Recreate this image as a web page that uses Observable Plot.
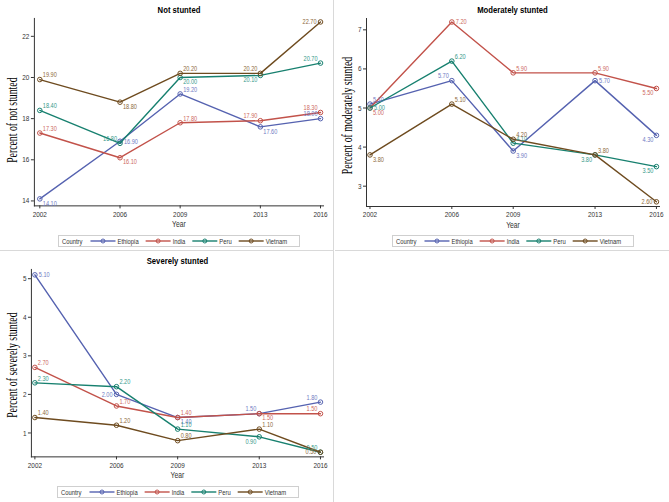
<!DOCTYPE html>
<html><head><meta charset="utf-8">
<script src="https://cdn.jsdelivr.net/npm/d3@7"></script>
<script src="https://cdn.jsdelivr.net/npm/@observablehq/plot@0.6"></script>
<style>
body{margin:0;background:#fff;font-family:"Liberation Sans",Arial,sans-serif;}
#root{position:relative;width:669px;height:502px;overflow:hidden;background:#fff}
.panel{position:absolute;width:334px;height:251px;box-sizing:border-box;border-color:#d9d9d9;border-style:solid;border-width:0}
.panel > svg{position:absolute;left:0;top:0;overflow:visible}
.title{position:absolute;top:4px;font-weight:bold;font-size:9.5px;line-height:12px;text-align:center;color:#000;z-index:2;transform:scaleX(0.81);transform-origin:center}
.legend{position:absolute;top:235px;height:12px;border:1px solid #cfcfcf;box-sizing:border-box;z-index:2}
.legend svg{position:absolute;left:0;top:0}
</style></head>
<body><div id="root"></div>
<script>
// ---- data ----
const years = [2002, 2006, 2009, 2013, 2016];
const countries = ["Ethiopia", "India", "Peru", "Vietnam"];

const notEthiopia = [14.1, 16.9, 19.2, 17.6, 18.0];
const notIndia    = [17.3, 16.1, 17.8, 17.9, 18.3];
const notPeru     = [18.4, 16.8, 20.0, 20.1, 20.7];
const notVietnam  = [19.9, 18.8, 20.2, 20.2, 22.7];

const modEthiopia = [5.1, 5.7, 3.9, 5.7, 4.3];
const modIndia    = [5.0, 7.2, 5.9, 5.9, 5.5];
const modPeru     = [5.0, 6.2, 4.1, 3.8, 3.5];
const modVietnam  = [3.8, 5.1, 4.2, 3.8, 2.6];

const sevEthiopia = [5.1, 2.0, 1.4, 1.5, 1.8];
const sevIndia    = [2.7, 1.7, 1.4, 1.5, 1.5];
const sevPeru     = [2.3, 2.2, 1.1, 0.9, 0.5];
const sevVietnam  = [1.4, 1.2, 0.8, 1.1, 0.5];

const notTicks = [14, 16, 18, 20, 22];
const modTicks = [3, 4, 5, 6, 7];
const sevTicks = [1, 2, 3, 4, 5];

// data-label placement (compass direction from the point)
const notPlace = [["se","e","ne","se","nw"],["ne","se","ne","nw","nw"],["ne","nw","se","sw","nw"],["ne","se","ne","nw","w"]];
const modPlace = [["ne","nw","se","e","sw"],["se","e","ne","ne","sw"],["e","ne","ne","sw","sw"],["se","ne","ne","ne","w"]];
const sevPlace = [["e","w","se","nw","nw"],["ne","ne","ne","se","nw"],["ne","ne","ne","sw","nw"],["ne","ne","ne","ne","w"]];

// ---- styles ----
const sans = "Liberation Sans, Arial, sans-serif";
const lineColors  = ["#5562b0", "#c2524a", "#17806f", "#6e4b1f"];
const labelColors = ["#6f7bc3", "#cd6a5f", "#35998a", "#8d6a3c"];
const offsets = {
  ne: {dx: 3, dy: -4.5, textAnchor: "start"},
  se: {dx: 3, dy: 4.5, textAnchor: "start"},
  nw: {dx: -3, dy: -4.5, textAnchor: "end"},
  sw: {dx: -3, dy: 4.5, textAnchor: "end"},
  e:  {dx: 4, dy: 0, textAnchor: "start"},
  w:  {dx: -4, dy: 0, textAnchor: "end"}
};

// the reference uses condensed type: narrow each svg text
function condense(text, ratio) {
  if (!text.getComputedTextLength) return 0;
  const L = text.getComputedTextLength();
  if (L > 0) {
    text.setAttribute("textLength", (L * ratio).toFixed(2));
    text.setAttribute("lengthAdjust", "spacingAndGlyphs");
  }
  return L * ratio;
}

const root = document.getElementById("root");

function panel({left, top, title, ylabel, series, places, ticks, domain, marginLeft, ylabelDy, borders}) {
  const W = 334, H = 251, mr = 10, mt = 18, axisY = 206;
  const div = document.createElement("div");
  div.className = "panel";
  div.style.left = left + "px"; div.style.top = top + "px";
  div.style.borderWidth = borders;
  root.appendChild(div);

  const rows = [];
  countries.forEach((c, ci) => series[ci].forEach((v, i) =>
    rows.push({country: c, ci, year: years[i], value: v, place: places[ci][i]})));

  const marks = [];
  countries.forEach((c, ci) => {
    const r = rows.filter(d => d.ci === ci);
    marks.push(Plot.line(r, {x: "year", y: "value", stroke: lineColors[ci], strokeWidth: 1.4}));
    marks.push(Plot.dot(r, {x: "year", y: "value", stroke: lineColors[ci], fill: "none", r: 2.3, strokeWidth: 1}));
  });
  countries.forEach((c, ci) => {
    for (const p of Object.keys(offsets)) {
      const r = rows.filter(d => d.ci === ci && d.place === p);
      if (!r.length) continue;
      marks.push(Plot.text(r, {x: "year", y: "value", text: d => d.value.toFixed(2),
        fill: labelColors[ci], fontSize: 7, ...offsets[p]}));
    }
  });
  marks.push(Plot.text(["Year"], {text: d => d, frameAnchor: "bottom", dy: 21, fontSize: 8.5, fill: "#333"}));
  marks.push(Plot.text([ylabel], {text: d => d, frameAnchor: "left", textAnchor: "middle", rotate: -90,
    dx: 12 - marginLeft, dy: ylabelDy,
    fontFamily: "Liberation Serif, Times New Roman, serif", fontSize: 14, fill: "#000"}));

  const chart = Plot.plot({
    width: W, height: H,
    marginLeft, marginRight: mr, marginTop: mt, marginBottom: H - axisY,
    style: {fontFamily: sans, fontSize: "8px", color: "#333", background: "transparent", overflow: "visible"},
    x: {type: "linear", domain: [years[0] - (marginLeft > 32 ? 0.27 : 0.17), years[years.length - 1] + 0.15],
        ticks: years, tickFormat: "d", tickSize: 3, tickPadding: 2, line: true, label: null},
    y: {domain, ticks, tickFormat: d => String(d), tickSize: 3, tickPadding: 2, line: true, label: null},
    marks
  });
  div.appendChild(chart);
  chart.querySelectorAll("text").forEach(t => condense(t, t.textContent === ylabel ? 0.7 : 0.8));

  const t = document.createElement("div");
  t.className = "title"; t.textContent = title;
  t.style.left = marginLeft + "px"; t.style.width = (W - mr - marginLeft) + "px";
  div.appendChild(t);

  // legend
  const lw = 242, lh = 12;
  const center = (marginLeft + W - mr) / 2;
  const lg = document.createElement("div");
  lg.className = "legend";
  lg.style.left = (center - lw / 2) + "px"; lg.style.width = lw + "px";
  div.appendChild(lg);
  const svg = d3.select(lg).append("svg").attr("width", lw - 2).attr("height", lh - 2)
    .style("font-family", sans).style("font-size", "7.5px");
  let x = 3;
  const cy = (lh - 2) / 2;
  const addText = (s) => {
    const tx = svg.append("text").attr("x", x).attr("y", cy).attr("dy", "0.35em").attr("fill", "#333").text(s);
    x += condense(tx.node(), 0.78);
  };
  addText("Country");
  x += 8;
  countries.forEach((c, i) => {
    svg.append("line").attr("x1", x).attr("x2", x + 25).attr("y1", cy).attr("y2", cy)
      .attr("stroke", lineColors[i]).attr("stroke-width", 1.4);
    svg.append("circle").attr("cx", x + 12.5).attr("cy", cy).attr("r", 2).attr("fill", "none").attr("stroke", lineColors[i]);
    x += 27;
    addText(c);
    x += 7;
  });
}

panel({left: 0, top: 0, title: "Not stunted", ylabel: "Percent of not stunted",
  series: [notEthiopia, notIndia, notPeru, notVietnam], places: notPlace,
  ticks: notTicks, domain: [13.76, 22.87], marginLeft: 34, ylabelDy: 8, borders: "0 1px 1px 0"});
panel({left: 335, top: 0, title: "Moderately stunted", ylabel: "Percent of moderately stunted",
  series: [modEthiopia, modIndia, modPeru, modVietnam], places: modPlace,
  ticks: modTicks, domain: [2.48, 7.29], marginLeft: 31, ylabelDy: 3, borders: "0 0 1px 0"});
panel({left: 0, top: 251, title: "Severely stunted", ylabel: "Percent of severely stunted",
  series: [sevEthiopia, sevIndia, sevPeru, sevVietnam], places: sevPlace,
  ticks: sevTicks, domain: [0.38, 5.24], marginLeft: 31, ylabelDy: 2, borders: "0 1px 0 0"});
</script>
</body></html>
